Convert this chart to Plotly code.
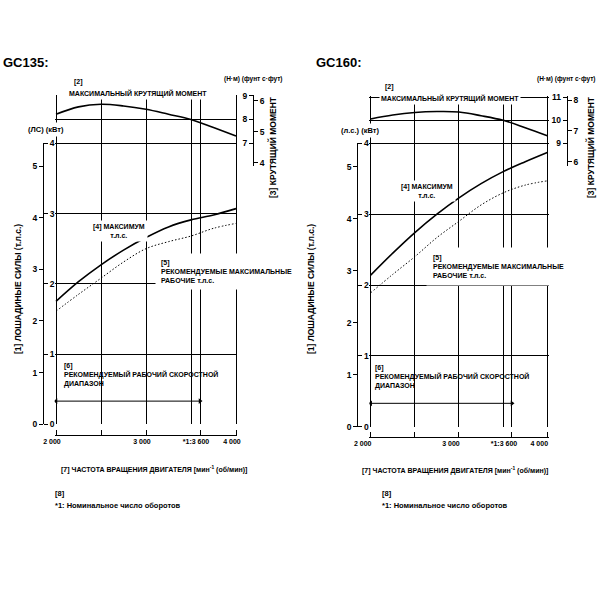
import plotly.graph_objects as go

# engine speed sample points (rpm)
rpm = [2000, 2250, 2500, 2750, 3000, 3250, 3500, 3750, 4000]

# GC135
gc135_torque_nm = [8.22, 8.53, 8.64, 8.57, 8.43, 8.22, 8.0, 7.66, 7.31]
gc135_max_kw = [1.75, 2.03, 2.27, 2.48, 2.66, 2.81, 2.91, 2.98, 3.07]
gc135_rec_kw = [1.61, 1.85, 2.08, 2.31, 2.50, 2.60, 2.68, 2.79, 2.86]

# GC160
gc160_torque_nm = [10.06, 10.23, 10.34, 10.38, 10.36, 10.2, 10.0, 9.68, 9.33]
gc160_max_kw = [2.14, 2.45, 2.74, 3.0, 3.23, 3.43, 3.6, 3.74, 3.87]
gc160_rec_kw = [1.89, 2.15, 2.40, 2.67, 2.90, 3.13, 3.30, 3.41, 3.47]

# recommended operating range
op_range_rpm = [2000, 3600]
op_range_kw = [0.33, 0.33]

grid_rpm = [2000, 2500, 3000, 3500, 3600, 4000]
tick_rpm = [2000, 2500, 3000, 3600, 4000]
tick_rpm_text = ["2 000", "", "3 000", "*1:3 600", "4 000"]
kw_ticks = [0, 1, 2, 3, 4]
hp_ticks = [0, 1, 2, 3, 4, 5]
gc135_nm_ticks = [7, 8, 9]
gc135_lbft_ticks = [4, 5, 6]
gc160_nm_ticks = [9, 10, 11]
gc160_lbft_ticks = [6, 7, 8]

FONT = "Liberation Sans Narrow, Liberation Sans, Arial, sans-serif"
BODY = 7
PAD = 15  # small rpm margin so the end grid lines are not dropped


def px(x):
    return x / 600


def py(y):
    return 1 - y / 600


fig = go.Figure()
tf = dict(family=FONT, size=8.5, color="black", weight="bold")
xtf = dict(family=FONT, size=7, color="black", weight="bold")
ann = []


def note(text, x, y, xa="left", ya="middle", size=BODY, bg=True, angle=0, align="left", pad=2):
    ann.append(dict(text=text, x=px(x), y=py(y), xref="paper", yref="paper",
                    xanchor=xa, yanchor=ya, showarrow=False, textangle=angle,
                    align=align, bgcolor="white" if bg else None, borderpad=pad,
                    font=dict(family=FONT, size=size, color="black", weight="bold")))


def panel(n, x0, x1, kw_bot, kw_top, up_bot, up_top, hp_top, nm_rng, lb_rng,
          left_pos, right_pos, xline_y, shift, torque, max_kw, rec_kw, nm_t, lb_t):
    # axis ids
    xa, xb, xc = [f"x{3*n+i}" if 3*n+i > 1 else "x" for i in (1, 2, 3)]
    ya, yb, yc, yd = [f"y{4*n+i}" if 4*n+i > 1 else "y" for i in (1, 2, 3, 4)]
    L = lambda a: a.replace("x", "xaxis").replace("y", "yaxis")
    k = (x1 - x0) / 2000 * PAD
    dom = [px(x0 - k), px(x1 + k)]
    xr = [2000 - PAD, 4000 + PAD]
    grid = dict(showgrid=True, gridcolor="black", gridwidth=1, zeroline=False,
                automargin=False)
    plain = dict(showgrid=False, zeroline=False, automargin=False)
    fig.layout[L(xa)] = dict(domain=dom, range=xr, anchor=ya, tickvals=grid_rpm,
                             showticklabels=False, ticks="", showline=False, **grid)
    fig.layout[L(xb)] = dict(domain=dom, range=xr, anchor=yc, matches=xa,
                             tickvals=grid_rpm, showticklabels=False, ticks="",
                             showline=False, **grid)
    fig.layout[L(xc)] = dict(range=xr, overlaying=xa, anchor="free",
                             position=py(xline_y), showline=True, linecolor="black",
                             linewidth=1, ticks="inside", ticklen=5, tickcolor="black",
                             tickangle=0, tickvals=tick_rpm, ticktext=tick_rpm_text,
                             tickfont=xtf, ticklabelshift=shift, **plain)
    lower = [py(kw_bot), py(kw_top)]
    upper = [py(up_bot), py(up_top)]
    fig.layout[L(ya)] = dict(domain=lower, range=[0, 4], anchor="free", side="right",
                             position=px(left_pos), tickvals=kw_ticks, ticks="outside",
                             ticklen=4, tickcolor="black", tickfont=tf,
                             showline=False, **grid)
    fig.layout[L(yb)] = dict(range=[0, hp_top], overlaying=ya, anchor="free", side="left",
                             position=px(left_pos), tickvals=hp_ticks, ticks="outside",
                             ticklen=4, tickcolor="black", tickfont=tf, showline=True,
                             linecolor="black", linewidth=1, **plain)
    fig.layout[L(yc)] = dict(domain=upper, range=nm_rng, anchor="free", side="left",
                             position=px(right_pos), tickvals=nm_t, ticks="outside",
                             ticklen=4, tickcolor="black",
                             tickfont=tf, showline=False, **grid)
    fig.layout[L(yd)] = dict(range=lb_rng, overlaying=yc, anchor="free", side="right",
                             position=px(right_pos), tickvals=lb_t, ticks="outside",
                             ticklen=4, tickcolor="black", tickfont=tf, showline=True,
                             linecolor="black", linewidth=1, **plain)

    line = dict(color="black", width=1.6)
    fig.add_trace(go.Scatter(x=rpm, y=max_kw, mode="lines", line=line, xaxis=xa, yaxis=ya,
                             line_shape="spline"))
    fig.add_trace(go.Scatter(x=rpm, y=rec_kw, mode="lines", xaxis=xa, yaxis=ya,
                             line=dict(color="black", width=1, dash="1.5px,2px"),
                             line_shape="spline"))
    fig.add_trace(go.Scatter(x=rpm, y=torque, mode="lines", line=line, xaxis=xb, yaxis=yc,
                             line_shape="spline"))
    fig.add_trace(go.Scatter(x=op_range_rpm, y=op_range_kw, mode="lines+markers",
                             xaxis=xa, yaxis=ya, line=dict(color="black", width=1),
                             marker=dict(symbol=["triangle-left", "triangle-right"],
                                         size=5, color="black")))
    # invisible helpers so the overlay axes get drawn
    fig.add_trace(go.Scatter(x=[None], y=[None], xaxis=xc, yaxis=yb, hoverinfo="skip"))
    fig.add_trace(go.Scatter(x=[None], y=[None], xaxis=xb, yaxis=yd, hoverinfo="skip"))


panel(0, 56, 236, 424.3, 143.3, 166, 95, 5.44, [6.046, 9.03], [3.894, 6.184],
      43, 253, 435, -4, gc135_torque_nm, gc135_max_kw, gc135_rec_kw,
      gc135_nm_ticks, gc135_lbft_ticks)
panel(1, 370.7, 547.3, 426.7, 143.3, 166, 96, 5.45, [8.013, 11.057], [5.861, 8.13],
      357.3, 566.7, 436.7, -8, gc160_torque_nm, gc160_max_kw, gc160_rec_kw,
      gc160_nm_ticks, gc160_lbft_ticks)

# GC135 texts
note("GC135:", 0, 62.7, size=13, bg=False)
note("(Н·м) (фунт с·фут)", 253, 79, xa="center", size=6.5, bg=False)
note("МАКСИМАЛЬНЫЙ КРУТЯЩИЙ МОМЕНТ", 138, 93.5, xa="center", pad=1)
note("[2]", 71, 82.5, bg=False)
note("(ЛС) (кВт)", 46, 129.3, xa="center", size=7.5)
note("[4] МАКСИМУМ<br>т.л.с.", 119, 231, xa="center", align="center")
note("[5]<br>РЕКОМЕНДУЕМЫЕ МАКСИМАЛЬНЫЕ<br>РАБОЧИЕ т.л.с.", 155, 271, pad=5)
note("[6]<br>РЕКОМЕНДУЕМЫЙ РАБОЧИЙ СКОРОСТНОЙ<br>ДИАПАЗОН", 61, 375, bg=False)
note("[7] ЧАСТОТА ВРАЩЕНИЯ ДВИГАТЕЛЯ [мин<sup>-1</sup> (об/мин)]", 154, 469,
     xa="center", bg=False)
note("[8]", 52, 493, size=7.5, bg=False)
note("*1: Номинальное число оборотов", 52, 505, size=7.5, bg=False)
note("[1] ЛОШАДИНЫЕ СИЛЫ (т.л.с.)", 18, 289, xa="center", angle=-90, size=8.5, bg=False)
note("[3] КРУТЯЩИЙ МОМЕНТ", 272, 147, xa="center", angle=-90, size=8.5, bg=False)

# GC160 texts
note("GC160:", 313, 62.7, size=13, bg=False)
note("(Н·м) (фунт с·фут)", 599, 79, xa="right", size=6.5, bg=False)
note("МАКСИМАЛЬНЫЙ КРУТЯЩИЙ МОМЕНТ", 450, 98.5, xa="center", pad=1)
note("[2]", 382, 87, bg=False)
note("(л.с.) (кВт)", 360, 130.7, xa="center", size=7.5)
note("[4] МАКСИМУМ<br>т.л.с.", 427, 191, xa="center", align="center")
note("[5]<br>РЕКОМЕНДУЕМЫЕ МАКСИМАЛЬНЫЕ<br>РАБОЧИЕ т.л.с.", 426, 266, pad=6)
note("[6]<br>РЕКОМЕНДУЕМЫЙ РАБОЧИЙ СКОРОСТНОЙ<br>ДИАПАЗОН", 372, 377, bg=False)
note("[7] ЧАСТОТА ВРАЩЕНИЯ ДВИГАТЕЛЯ [мин<sup>-1</sup> (об/мин)]", 455, 470,
     xa="center", bg=False)
note("[8]", 379, 493, size=7.5, bg=False)
note("*1: Номинальное число оборотов", 379, 505, size=7.5, bg=False)
note("[1] ЛОШАДИНЫЕ СИЛЫ (т.л.с.)", 311, 289, xa="center", angle=-90, size=8.5, bg=False)
note("[3] КРУТЯЩИЙ МОМЕНТ", 590, 147, xa="center", angle=-90, size=8.5, bg=False)

# transparent plot areas: the torque panel overlaps the top of the power panel
fig.update_layout(width=600, height=600, autosize=False,
                  margin=dict(l=0, r=0, t=0, b=0, pad=0),
                  paper_bgcolor="white", plot_bgcolor="rgba(0,0,0,0)", showlegend=False,
                  annotations=ann, font=dict(family=FONT, color="black"))
fig.write_html("out.html", config={"displayModeBar": False},
               post_script="document.body.style.margin='0';document.body.style.overflow='hidden';")
